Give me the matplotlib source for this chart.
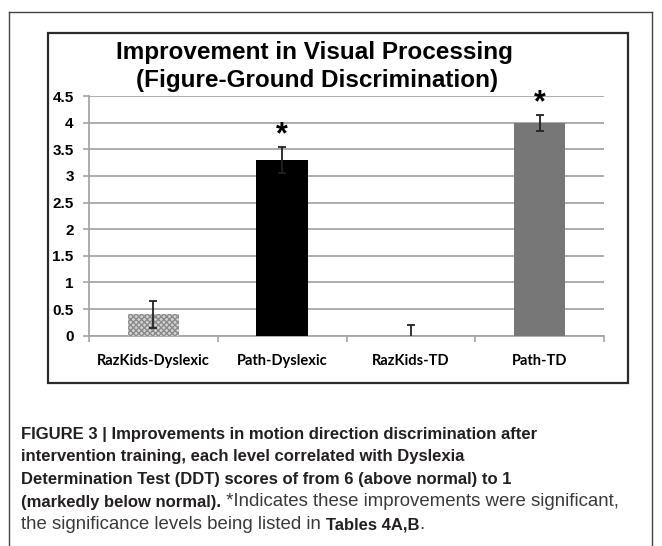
import matplotlib
matplotlib.use("Agg")
import matplotlib.pyplot as plt
from matplotlib import font_manager
from matplotlib.patches import Rectangle
from matplotlib.lines import Line2D

# ---- data ----
categories = ["RazKids-Dyslexic", "Path-Dyslexic", "RazKids-TD", "Path-TD"]
values = [0.40, 3.30, 0.0, 4.0]
err_low = [0.26, 0.24, 0.20, 0.15]
err_high = [0.26, 0.24, 0.20, 0.15]
significant = [False, True, False, True]
yticks = [0, 0.5, 1, 1.5, 2, 2.5, 3, 3.5, 4, 4.5]
ytick_labels = ["0", "0.5", "1", "1.5", "2", "2.5", "3", "3.5", "4", "4.5"]
title_lines = ["Improvement in Visual Processing", "(Figure-Ground Discrimination)"]
caption_runs = [
    [("FIGURE 3 | Improvements in motion direction discrimination after", True)],
    [("intervention training, each level correlated with Dyslexia", True)],
    [("Determination Test (DDT) scores of from 6 (above normal) to 1", True)],
    [("(markedly below normal).", True), (" *Indicates these improvements were significant,", False)],
    [("the significance levels being listed in ", False), ("Tables 4A,B", True), (".", False)],
]


def has_font(name):
    try:
        font_manager.findfont(font_manager.FontProperties(family=name), fallback_to_default=False)
        return True
    except Exception:
        return False

cap_family = "Liberation Sans Narrow" if has_font("Liberation Sans Narrow") else "Liberation Sans"
cat_family = "Lato" if has_font("Lato") else "DejaVu Sans"

W, H = 662, 546
fig = plt.figure(figsize=(W / 100, H / 100), dpi=100)


def fx(px):
    return px / W


def fy(py):
    return 1 - py / H

# outer frame
for (x0, y0, x1, y1) in [(9, 12, 9, 546), (9, 12, 652, 12), (652, 12, 652, 546)]:
    fig.add_artist(Line2D([fx(x0), fx(x1)], [fy(y0), fy(y1)], color="#444444", lw=1.0))

# chart box
fig.add_artist(Rectangle((fx(48), fy(383)), fx(628) - fx(48), fy(33) - fy(383),
                         fill=False, edgecolor="#2a2a2a", lw=1.6, transform=fig.transFigure))

ax = fig.add_axes([fx(89), fy(335.7), fx(604) - fx(89), fy(96) - fy(335.7)])
x = list(range(len(categories)))
colors = ["#d4d4d4", "#000000", "#ffffff", "#777777"]
bars = ax.bar(x, values, width=0.4, color=colors, edgecolor="none", zorder=3)
bars[0].set_hatch("xxxxxx")
bars[0].set_edgecolor("#8a8a8a")
bars[0].set_linewidth(0)
ax.errorbar(x, values, yerr=[err_low, err_high], fmt="none", ecolor="#222222",
            elinewidth=1.3, capsize=3, capthick=1.3, zorder=4)
for i, sig in enumerate(significant):
    if sig:
        ax.annotate("*", xy=(x[i], values[i] + err_high[i]), xytext=(0, 8.5),
                    textcoords="offset points", ha="center", va="center",
                    fontsize=22, fontweight="bold", family="Liberation Sans")

ax.set_xlim(-0.5, len(categories) - 0.5)
ax.set_ylim(0, 4.5)
ax.set_yticks(yticks)
ax.set_yticklabels(ytick_labels, fontsize=11, fontweight="bold", family="Liberation Sans")
ax.yaxis.grid(True, color="#a6a6a6", lw=1.3)
ax.set_axisbelow(True)
ax.set_xticks(x)
ax.set_xticklabels(categories, fontsize=10.5, fontweight="bold", family=cat_family)
ax.set_xticks([i - 0.5 for i in range(len(categories) + 1)], minor=True)
ax.tick_params(axis="x", which="major", length=0, pad=13)
ax.tick_params(axis="x", which="minor", length=4, color="#a6a6a6", width=1.2, direction="out")
ax.tick_params(axis="y", length=4, color="#a6a6a6", width=1.2, pad=7)
for s in ["top", "right"]:
    ax.spines[s].set_visible(False)
for s in ["left", "bottom"]:
    ax.spines[s].set_color("#a6a6a6")
    ax.spines[s].set_linewidth(1.3)

# title
fig.text(fx(314), fy(53), title_lines[0], ha="center", va="center", fontsize=17.5,
         fontweight="bold", family="Liberation Sans")
fig.text(fx(317), fy(80), title_lines[1], ha="center", va="center", fontsize=17.5,
         fontweight="bold", family="Liberation Sans")

# caption with mixed weight runs
renderer = fig.canvas.get_renderer()
baselines = [439, 461.5, 484, 506.5, 529]
bold_size = 13 if cap_family == "Liberation Sans Narrow" else 12
reg_size = bold_size * 1.12
for line, yb in zip(caption_runs, baselines):
    xp = 21
    for txt, bold in line:
        t = fig.text(fx(xp), fy(yb), txt, ha="left", va="baseline",
                     fontsize=bold_size if bold else reg_size,
                     fontweight="bold" if bold else "normal", family=cap_family,
                     color="#231f20" if bold else "#3a3a3a")
        bb = t.get_window_extent(renderer=renderer)
        xp += bb.width

fig.savefig("out.png", dpi=100)
